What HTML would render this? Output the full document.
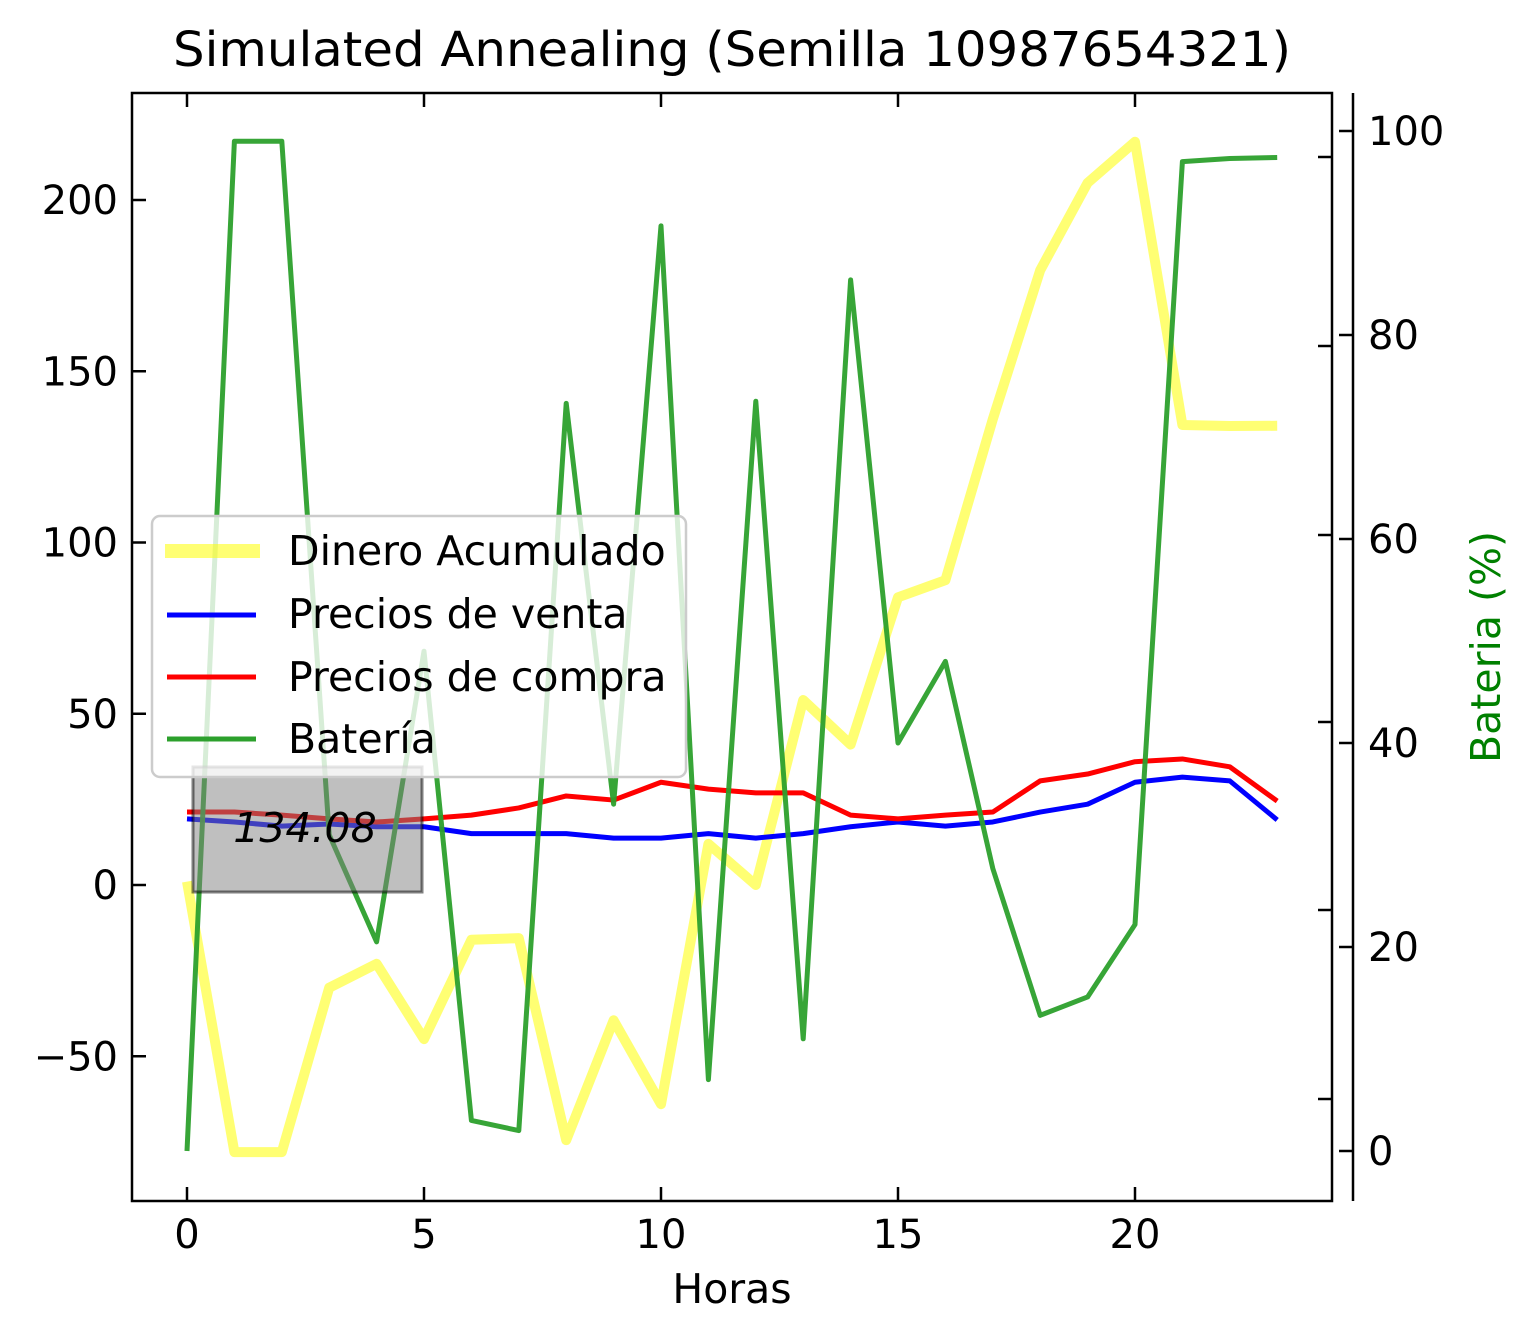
<!DOCTYPE html>
<html><head><meta charset="utf-8"><style>
body{margin:0;background:#fff}
svg{display:block;font-family:"DejaVu Sans","Liberation Sans",sans-serif}
</style></head><body>
<svg id="chart" width="1540" height="1341" viewBox="0 0 1540 1341" xmlns="http://www.w3.org/2000/svg">
<rect width="1540" height="1341" fill="#fff"/>
<text x="732" y="66" font-size="48" text-anchor="middle" textLength="1118" lengthAdjust="spacingAndGlyphs">Simulated Annealing (Semilla 10987654321)</text>
<g id="marks"></g>
<rect x="132" y="93" width="1200" height="1108" fill="none" stroke="#000" stroke-width="2.5"/>
<line x1="1353" y1="93" x2="1353" y2="1201" stroke="#000" stroke-width="2.5"/>
<g id="axes"></g>
<text x="732" y="1303" font-size="41" text-anchor="middle">Horas</text>
<text transform="translate(1500,647) rotate(-90)" font-size="41" text-anchor="middle" fill="#008000">Bateria (%)</text>
<rect x="193" y="767" width="229" height="125" fill="#808080" fill-opacity="0.5" stroke="#000" stroke-opacity="0.5" stroke-width="3"/>
<text x="305" y="842" font-size="41" font-style="italic" text-anchor="middle">134.08</text>
<g>
<rect x="152" y="516" width="534" height="261" rx="8" fill="#fff" fill-opacity="0.8" stroke="#ccc" stroke-width="2.5"/>
<line x1="165" y1="551" x2="260" y2="551" stroke="#ffff00" stroke-opacity="0.55" stroke-width="14"/>
<text x="288" y="565" font-size="41">Dinero Acumulado</text>
<line x1="167" y1="615" x2="256" y2="615" stroke="#0000ff" stroke-width="5"/>
<text x="288" y="628" font-size="41">Precios de venta</text>
<line x1="167" y1="677" x2="256" y2="677" stroke="#ff0000" stroke-width="5"/>
<text x="288" y="691" font-size="41">Precios de compra</text>
<line x1="167" y1="739" x2="256" y2="739" stroke="#2ca02c" stroke-width="5"/>
<text x="288" y="753" font-size="41">Batería</text>
</g>
</svg>
<script>
const hours=[0,1,2,3,4,5,6,7,8,9,10,11,12,13,14,15,16,17,18,19,20,21,22,23];
const dinero=[1,-78,-78,-30,-23,-45,-16,-15.5,-74.5,-39.5,-64,12,0,54,41,84,89,136,179.5,205,217,134.3,134,134.08];
const venta=[19.3,18.4,17.2,17.8,17,17,15,15,15,13.7,13.7,15,13.7,15,17,18.4,17.2,18.4,21.3,23.6,30,31.5,30.4,19];
const compra=[21.3,21.3,20.4,19.3,18.4,19.3,20.4,22.5,26,24.8,30,28,26.9,26.9,20.4,19.3,20.4,21.3,30.4,32.4,36,36.8,34.5,24.5];
const bateria=[0,99,99,31,20.5,49,3,2,73.3,34,90.7,7,73.5,11,85.4,40,48,27.7,13.3,15.1,22.2,97,97.3,97.4];
const xTicks=[0,5,10,15,20];
const yTicks=[-50,0,50,100,150,200];
const yTickLabels=["\u221250","0","50","100","150","200"];
const rTicks=[0,20,40,60,80,100];
const NS="http://www.w3.org/2000/svg";
const X=v=>187+v*47.4;
const Y=v=>885-v*3.425;
const R=v=>1151-v*10.2;
const marks=document.getElementById('marks'),axes=document.getElementById('axes');
function line(vals,sc,color,w,op,name){
  const p=document.createElementNS(NS,'polyline');
  p.setAttribute('points',vals.map((v,i)=>X(hours[i])+','+sc(v)).join(' '));
  p.setAttribute('fill','none');p.setAttribute('stroke',color);p.setAttribute('stroke-width',w);
  p.setAttribute('stroke-opacity',op);p.setAttribute('stroke-linejoin','round');
  
  
  marks.appendChild(p);
}
line(dinero,Y,'#ffff00',10,0.55,'dinero-line');
line(venta,Y,'#0000ff',5,1,'venta-line');
line(compra,Y,'#ff0000',5,1,'compra-line');
line(bateria,R,'#2ca02c',5,0.95,'bateria-line');
function el(tag,attrs,txt){const e=document.createElementNS(NS,tag);for(const k in attrs)e.setAttribute(k,attrs[k]);if(txt!==undefined)e.textContent=txt;axes.appendChild(e);return e;}
xTicks.forEach(t=>{
  const x=X(t);
  const a=el('line',{x1:x,y1:1201,x2:x,y2:1187,stroke:'#000','stroke-width':2.5});
  
  
  const b=el('line',{x1:x,y1:93,x2:x,y2:107,stroke:'#000','stroke-width':2.5});
  
  
  const l=el('text',{x:x,y:1248,'font-size':40,'text-anchor':'middle'},String(t));
  
  
});
yTicks.forEach((t,i)=>{
  const y=Y(t);
  const a=el('line',{x1:132,y1:y,x2:146,y2:y,stroke:'#000','stroke-width':2.5});
  
  
  const l=el('text',{x:118,y:y+14,'font-size':40,'text-anchor':'end'},yTickLabels[i]);
  
  
});
rTicks.forEach(t=>{
  const y=R(t);
  const a=el('line',{x1:1339,y1:y,x2:1353,y2:y,stroke:'#000','stroke-width':2.5});
  
  
  const l=el('text',{x:1368,y:y+14,'font-size':40},String(t));
  
  
});
[157,346,535,722,910,1099].forEach(y=>{
  const a=el('line',{x1:1318,y1:y,x2:1332,y2:y,stroke:'#000','stroke-width':2.5});
  
  
});
</script>
</body></html>
